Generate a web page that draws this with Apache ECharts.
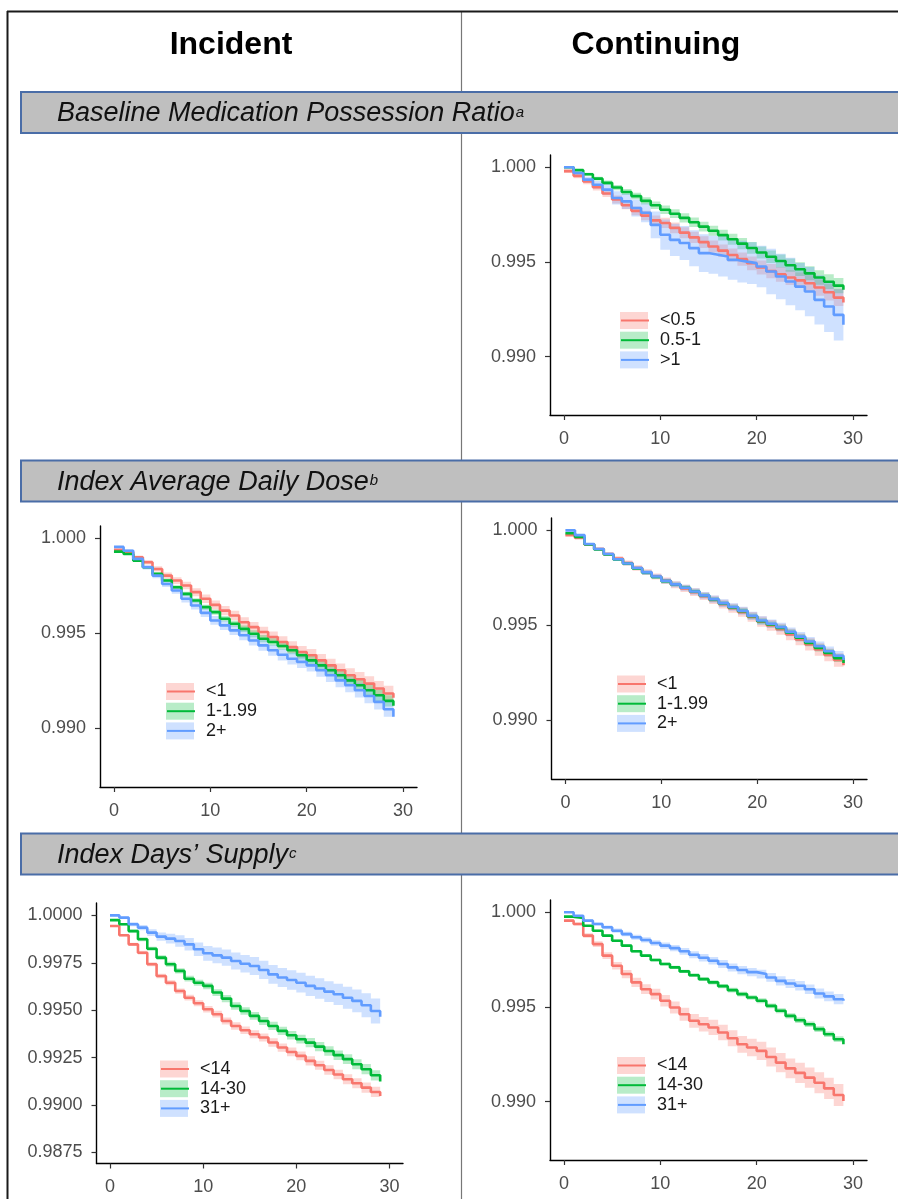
<!DOCTYPE html>
<html>
<head>
<meta charset="utf-8">
<script src="https://cdn.jsdelivr.net/npm/echarts@6/dist/echarts.min.js"></script>
<style>
  html, body { margin: 0; padding: 0; background: #fff; }
  #main { width: 898px; height: 1199px; }
</style>
</head>
<body>
<div id="main"></div>
<script>
// 随访天数
const days = [0,1,2,3,4,5,6,7,8,9,10,11,12,13,14,15,16,17,18,19,20,21,22,23,24,25,26,27,28,29];

// 分组
const groupMpr = ['<0.5', '0.5-1', '>1'];
const groupDose = ['<1', '1-1.99', '2+'];
const groupSupply = ['<14', '14-30', '31+'];

// 刻度
const xTicks = [0, 10, 20, 30];
const xTickLabels = ['0', '10', '20', '30'];
const yTicks3 = [0.990, 0.995, 1.000];
const yTickLabels3 = ['0.990', '0.995', '1.000'];
const yTicks4 = [0.9875, 0.9900, 0.9925, 0.9950, 0.9975, 1.0000];
const yTickLabels4 = ['0.9875', '0.9900', '0.9925', '0.9950', '0.9975', '1.0000'];

// Continuing - Baseline MPR
const cMpr1Mid = [.99980,.99955,.99925,.99895,.99862,.99830,.99800,.99770,.99745,.99720,.99706,.99680,.99655,.99630,.99605,.99582,.99560,.99537,.99515,.99493,.99471,.99452,.99435,.99418,.99403,.99388,.99365,.99340,.99312,.99286];
const cMpr1Hi = [.99990,.99968,.99940,.99912,.99881,.99851,.99822,.99793,.99770,.99746,.99733,.99708,.99684,.99660,.99636,.99614,.99593,.99571,.99550,.99529,.99508,.99490,.99474,.99458,.99444,.99430,.99408,.99384,.99357,.99332];
const cMpr1Lo = [.99970,.99942,.99910,.99878,.99843,.99809,.99778,.99747,.99720,.99694,.99679,.99652,.99626,.99600,.99574,.99550,.99527,.99503,.99480,.99457,.99434,.99414,.99396,.99378,.99362,.99346,.99322,.99296,.99267,.99240];
const cMpr2Mid = [1.0000,.99985,.99963,.99940,.99918,.99893,.99870,.99848,.99823,.99800,.99776,.99755,.99733,.99710,.99687,.99665,.99642,.99620,.99597,.99574,.99550,.99528,.99505,.99483,.99462,.99440,.99418,.99396,.99375,.99353];
const cMpr2Hi = [1.0000,.99990,.99971,.99950,.99930,.99907,.99886,.99865,.99842,.99820,.99798,.99778,.99757,.99735,.99713,.99692,.99670,.99649,.99627,.99605,.99582,.99561,.99539,.99518,.99498,.99477,.99456,.99435,.99415,.99394];
const cMpr2Lo = [1.0000,.99980,.99955,.99930,.99906,.99879,.99854,.99831,.99804,.99780,.99754,.99732,.99709,.99685,.99661,.99638,.99614,.99591,.99567,.99543,.99518,.99495,.99471,.99448,.99426,.99403,.99380,.99357,.99335,.99312];
const cMpr3Mid = [1.0000,.99970,.99935,.99908,.99882,.99838,.99820,.99785,.99760,.99696,.99644,.99617,.99600,.99573,.99547,.99538,.99529,.99511,.99502,.99494,.99476,.99450,.99423,.99397,.99370,.99344,.99300,.99265,.99221,.99168];
const cMpr3Hi = [1.0000,.99980,.99950,.99928,.99910,.99873,.99860,.99830,.99810,.99766,.99724,.99702,.99690,.99668,.99647,.99638,.99634,.99616,.99612,.99604,.99586,.99570,.99543,.99522,.99495,.99474,.99430,.99400,.99356,.99308];
const cMpr3Lo = [1.0000,.99960,.99920,.99888,.99854,.99803,.99780,.99740,.99710,.99626,.99564,.99532,.99510,.99478,.99447,.99438,.99424,.99406,.99392,.99384,.99366,.99330,.99303,.99272,.99245,.99214,.99170,.99130,.99086,.99028];

// Incident - Index average daily dose
const iDose1Mid = [.99940,.99927,.99900,.99874,.99839,.99804,.99778,.99752,.99717,.99682,.99650,.99620,.99594,.99559,.99533,.99507,.99481,.99455,.99428,.99402,.99385,.99358,.99332,.99306,.99280,.99259,.99236,.99210,.99184,.99161];
const iDose1Hi = [.99945,.99935,.99910,.99886,.99853,.99820,.99796,.99772,.99738,.99704,.99673,.99644,.99619,.99585,.99560,.99535,.99510,.99485,.99459,.99434,.99418,.99392,.99367,.99342,.99317,.99297,.99275,.99250,.99224,.99201];
const iDose1Lo = [.99935,.99919,.99890,.99862,.99825,.99788,.99760,.99732,.99696,.99660,.99627,.99596,.99569,.99533,.99506,.99479,.99452,.99425,.99397,.99370,.99352,.99324,.99297,.99270,.99243,.99221,.99197,.99170,.99144,.99121];
const iDose2Mid = [.99930,.99918,.99883,.99848,.99813,.99778,.99743,.99708,.99673,.99638,.99612,.99577,.99551,.99524,.99498,.99472,.99455,.99434,.99411,.99385,.99358,.99332,.99306,.99280,.99253,.99227,.99201,.99175,.99145,.99119];
const iDose2Hi = [.99934,.99923,.99889,.99855,.99821,.99787,.99753,.99719,.99685,.99651,.99626,.99592,.99567,.99541,.99516,.99491,.99475,.99454,.99432,.99407,.99381,.99356,.99331,.99306,.99280,.99255,.99230,.99205,.99175,.99149];
const iDose2Lo = [.99926,.99913,.99877,.99841,.99805,.99769,.99733,.99697,.99661,.99625,.99598,.99562,.99535,.99507,.99480,.99453,.99435,.99414,.99390,.99363,.99335,.99308,.99281,.99254,.99226,.99199,.99172,.99145,.99115,.99089];
const iDose3Mid = [.99955,.99935,.99892,.99848,.99804,.99760,.99726,.99682,.99647,.99608,.99568,.99542,.99516,.99490,.99463,.99437,.99411,.99388,.99367,.99350,.99332,.99306,.99280,.99253,.99227,.99201,.99171,.99140,.99101,.99061];
const iDose3Hi = [.99960,.99943,.99902,.99860,.99818,.99776,.99744,.99702,.99668,.99630,.99591,.99566,.99541,.99516,.99490,.99465,.99440,.99418,.99398,.99382,.99365,.99340,.99315,.99289,.99264,.99239,.99210,.99180,.99141,.99101];
const iDose3Lo = [.99950,.99927,.99882,.99836,.99790,.99744,.99708,.99662,.99626,.99586,.99545,.99518,.99491,.99464,.99436,.99409,.99382,.99358,.99336,.99318,.99299,.99272,.99245,.99217,.99190,.99163,.99132,.99100,.99061,.99021];

// Continuing - Index average daily dose
const cDose1Mid = [.99975,.99960,.99925,.99902,.99875,.99852,.99828,.99802,.99780,.99757,.99735,.99714,.99695,.99675,.99654,.99634,.99612,.99590,.99570,.99545,.99520,.99500,.99480,.99452,.99426,.99400,.99373,.99345,.99318,.99290];
const cDose1Hi = [.99978,.99965,.99932,.99911,.99885,.99864,.99841,.99816,.99795,.99773,.99752,.99732,.99714,.99695,.99675,.99656,.99635,.99614,.99595,.99571,.99547,.99528,.99509,.99482,.99457,.99432,.99406,.99379,.99353,.99326];
const cDose1Lo = [.99972,.99955,.99918,.99893,.99865,.99840,.99815,.99788,.99765,.99741,.99718,.99696,.99676,.99655,.99633,.99612,.99589,.99566,.99545,.99519,.99493,.99472,.99451,.99422,.99395,.99368,.99340,.99311,.99283,.99254];
const cDose2Mid = [.99985,.99965,.99926,.99900,.99873,.99847,.99825,.99800,.99777,.99755,.99733,.99715,.99698,.99678,.99657,.99636,.99615,.99595,.99575,.99548,.99522,.99505,.99487,.99461,.99435,.99408,.99382,.99355,.99328,.99302];
const cDose2Hi = [.99987,.99968,.99930,.99905,.99879,.99854,.99833,.99809,.99787,.99765,.99744,.99726,.99710,.99690,.99670,.99649,.99629,.99609,.99590,.99563,.99538,.99521,.99504,.99478,.99453,.99426,.99401,.99374,.99348,.99322];
const cDose2Lo = [.99983,.99962,.99922,.99895,.99867,.99840,.99817,.99791,.99767,.99745,.99722,.99704,.99686,.99666,.99644,.99623,.99601,.99581,.99560,.99533,.99506,.99489,.99470,.99444,.99417,.99390,.99363,.99336,.99308,.99282];
const cDose3Mid = [1.0000,.99975,.99928,.99902,.99876,.99848,.99826,.99802,.99779,.99757,.99734,.99716,.99698,.99678,.99658,.99638,.99617,.99597,.99577,.99551,.99526,.99509,.99491,.99466,.99441,.99415,.99390,.99364,.99340,.99318];
const cDose3Hi = [1.0000,.99979,.99934,.99909,.99884,.99857,.99836,.99813,.99791,.99770,.99748,.99731,.99714,.99695,.99676,.99657,.99637,.99617,.99598,.99572,.99548,.99531,.99514,.99489,.99465,.99439,.99415,.99389,.99366,.99344];
const cDose3Lo = [1.0000,.99971,.99922,.99895,.99868,.99839,.99816,.99791,.99767,.99744,.99720,.99701,.99682,.99661,.99640,.99619,.99597,.99577,.99556,.99530,.99504,.99487,.99468,.99443,.99417,.99391,.99365,.99339,.99314,.99292];

// Incident - Index days' supply
const iSupp1Mid = [.99944,.99895,.99847,.99803,.99742,.99680,.99645,.99601,.99566,.99537,.99505,.99479,.99443,.99417,.99394,.99373,.99356,.99330,.99303,.99280,.99259,.99233,.99210,.99185,.99161,.99136,.99115,.99092,.99069,.99048];
const iSupp1Hi = [.99948,.99901,.99855,.99813,.99753,.99692,.99658,.99615,.99581,.99553,.99522,.99497,.99462,.99437,.99414,.99394,.99377,.99352,.99325,.99303,.99282,.99257,.99234,.99210,.99186,.99162,.99141,.99119,.99096,.99076];
const iSupp1Lo = [.99940,.99889,.99839,.99793,.99731,.99668,.99632,.99587,.99551,.99521,.99488,.99461,.99424,.99397,.99374,.99352,.99335,.99308,.99281,.99257,.99236,.99209,.99186,.99160,.99136,.99110,.99089,.99065,.99042,.99020];
const iSupp2Mid = [.99975,.99953,.99917,.99874,.99824,.99777,.99742,.99707,.99666,.99645,.99628,.99593,.99561,.99522,.99496,.99470,.99443,.99417,.99391,.99368,.99347,.99329,.99308,.99285,.99263,.99242,.99215,.99189,.99157,.99124];
const iSupp2Hi = [.99979,.99959,.99925,.99884,.99835,.99789,.99755,.99721,.99681,.99661,.99645,.99611,.99580,.99542,.99516,.99491,.99464,.99439,.99413,.99391,.99370,.99353,.99332,.99310,.99288,.99268,.99241,.99216,.99184,.99152];
const iSupp2Lo = [.99971,.99947,.99909,.99864,.99813,.99765,.99729,.99693,.99651,.99629,.99611,.99575,.99542,.99502,.99476,.99449,.99422,.99395,.99369,.99345,.99324,.99305,.99284,.99260,.99238,.99216,.99189,.99162,.99130,.99096];
const iSupp3Mid = [1.0000,.99988,.99953,.99935,.99909,.99888,.99877,.99865,.99847,.99821,.99800,.99789,.99777,.99759,.99745,.99733,.99712,.99689,.99672,.99659,.99645,.99628,.99614,.99598,.99584,.99566,.99549,.99526,.99496,.99466];
const iSupp3Hi = [1.0000,.99993,.99963,.99949,.99927,.99910,.99903,.99895,.99880,.99857,.99839,.99830,.99820,.99804,.99791,.99780,.99760,.99738,.99722,.99710,.99697,.99681,.99668,.99653,.99640,.99624,.99609,.99589,.99562,.99536];
const iSupp3Lo = [1.0000,.99983,.99943,.99921,.99891,.99866,.99851,.99835,.99814,.99785,.99761,.99748,.99734,.99714,.99699,.99686,.99664,.99640,.99622,.99608,.99593,.99575,.99560,.99543,.99528,.99508,.99489,.99463,.99430,.99396];

// Continuing - Index days' supply
const cSupp1Mid = [.99956,.99938,.99877,.99832,.99771,.99718,.99674,.99630,.99594,.99568,.99533,.99497,.99462,.99427,.99409,.99392,.99365,.99335,.99303,.99286,.99268,.99236,.99206,.99176,.99152,.99127,.99100,.99070,.99035,.99004];
const cSupp1Hi = [.99962,.99946,.99889,.99847,.99789,.99738,.99696,.99654,.99620,.99596,.99563,.99529,.99496,.99463,.99447,.99432,.99406,.99377,.99347,.99332,.99316,.99286,.99257,.99228,.99205,.99181,.99155,.99126,.99093,.99064];
const cSupp1Lo = [.99950,.99930,.99865,.99817,.99753,.99698,.99652,.99606,.99568,.99540,.99503,.99465,.99428,.99391,.99371,.99352,.99324,.99293,.99259,.99240,.99220,.99186,.99155,.99124,.99099,.99073,.99045,.99014,.98977,.98944];
const cSupp2Mid = [.99977,.99970,.99929,.99903,.99877,.99850,.99824,.99794,.99771,.99748,.99727,.99709,.99688,.99668,.99647,.99630,.99610,.99589,.99568,.99550,.99533,.99506,.99480,.99453,.99430,.99409,.99383,.99356,.99330,.99303];
const cSupp2Hi = [.99979,.99973,.99933,.99908,.99882,.99856,.99830,.99801,.99778,.99756,.99735,.99718,.99697,.99678,.99657,.99641,.99621,.99601,.99580,.99562,.99546,.99519,.99493,.99467,.99444,.99423,.99398,.99371,.99345,.99319];
const cSupp2Lo = [.99975,.99967,.99925,.99898,.99872,.99844,.99818,.99787,.99764,.99740,.99719,.99700,.99679,.99658,.99637,.99619,.99599,.99577,.99556,.99538,.99520,.99493,.99467,.99439,.99416,.99395,.99368,.99341,.99315,.99287];
const cSupp3Mid = [1.0000,.99982,.99956,.99938,.99921,.99903,.99885,.99868,.99854,.99838,.99824,.99811,.99794,.99776,.99760,.99744,.99727,.99709,.99695,.99684,.99674,.99656,.99638,.99624,.99612,.99594,.99571,.99556,.99541,.99533];
const cSupp3Hi = [1.0000,.99986,.99962,.99946,.99931,.99914,.99897,.99881,.99868,.99853,.99840,.99828,.99812,.99795,.99780,.99764,.99748,.99730,.99717,.99706,.99697,.99679,.99662,.99648,.99637,.99619,.99597,.99582,.99568,.99560];
const cSupp3Lo = [1.0000,.99978,.99950,.99930,.99911,.99892,.99873,.99855,.99840,.99823,.99808,.99794,.99776,.99757,.99740,.99724,.99706,.99688,.99673,.99662,.99651,.99633,.99614,.99600,.99587,.99569,.99545,.99530,.99514,.99506];

// 颜色
const lineColors = ['#F8766D', '#00BA38', '#619CFF'];
const bandColors = ['rgba(248,118,109,0.30)', 'rgba(0,186,56,0.28)', 'rgba(97,156,255,0.30)'];
const FONT = '"Liberation Sans", Arial, sans-serif';

// 各面板
const panels = [
  { grid: { left: 550, top: 155, width: 317, height: 260 }, legend: [620, 311.5],
    groups: groupMpr, yTicks: yTicks3, yLabels: yTickLabels3,
    lines: [[cMpr1Mid, cMpr1Lo, cMpr1Hi], [cMpr2Mid, cMpr2Lo, cMpr2Hi], [cMpr3Mid, cMpr3Lo, cMpr3Hi]] },
  { grid: { left: 100, top: 526, width: 317, height: 261 }, legend: [166, 682.5],
    groups: groupDose, yTicks: yTicks3, yLabels: yTickLabels3,
    lines: [[iDose1Mid, iDose1Lo, iDose1Hi], [iDose2Mid, iDose2Lo, iDose2Hi], [iDose3Mid, iDose3Lo, iDose3Hi]] },
  { grid: { left: 551.5, top: 518, width: 315.5, height: 261 }, legend: [617, 675],
    groups: groupDose, yTicks: yTicks3, yLabels: yTickLabels3,
    lines: [[cDose1Mid, cDose1Lo, cDose1Hi], [cDose2Mid, cDose2Lo, cDose2Hi], [cDose3Mid, cDose3Lo, cDose3Hi]] },
  { grid: { left: 96.5, top: 903, width: 306.5, height: 260.5 }, legend: [160, 1060],
    groups: groupSupply, yTicks: yTicks4, yLabels: yTickLabels4,
    lines: [[iSupp1Mid, iSupp1Lo, iSupp1Hi], [iSupp2Mid, iSupp2Lo, iSupp2Hi], [iSupp3Mid, iSupp3Lo, iSupp3Hi]] },
  { grid: { left: 550, top: 900, width: 317, height: 260 }, legend: [617, 1056.5],
    groups: groupSupply, yTicks: yTicks3, yLabels: yTickLabels3,
    lines: [[cSupp1Mid, cSupp1Lo, cSupp1Hi], [cSupp2Mid, cSupp2Lo, cSupp2Hi], [cSupp3Mid, cSupp3Lo, cSupp3Hi]] }
];

//置信带: 阶梯多边形
function bandItem(params, api) {
  if (params.dataIndexInside !== 0) return null;
  const n = params.dataInsideLength;
  const up = [], dn = [];
  for (let i = 0; i < n; i++) {
    const t = api.value(0, i);
    if (i > 0) {
      up.push(api.coord([t, api.value(2, i - 1)]));
      dn.push(api.coord([t, api.value(1, i - 1)]));
    }
    up.push(api.coord([t, api.value(2, i)]));
    dn.push(api.coord([t, api.value(1, i)]));
  }
  return {
    type: 'polygon',
    shape: { points: up.concat(dn.reverse()) },
    style: { fill: api.visual('color') }
  };
}

const grids = [], xAxes = [], yAxes = [], series = [], legends = [];
panels.forEach(function (p, k) {
  grids.push(Object.assign({ containLabel: false }, p.grid));
  xAxes.push({
    type: 'value', gridIndex: k, min: -1.45, max: 31.45,
    axisLine: { show: true, onZero: false, lineStyle: { color: '#000', width: 1.4 } },
    axisTick: { show: true, customValues: xTicks, length: 5, lineStyle: { color: '#333', width: 1.2 } },
    axisLabel: { customValues: xTicks, fontSize: 18, color: '#4d4d4d', fontFamily: FONT, margin: 15,
      formatter: v => xTickLabels[xTicks.indexOf(Math.round(v))] },
    splitLine: { show: false }
  });
  yAxes.push({
    type: 'value', gridIndex: k, min: 0.98692, max: 1.00065,
    axisLine: { show: true, onZero: false, lineStyle: { color: '#000', width: 1.4 } },
    axisTick: { show: true, customValues: p.yTicks, length: 5, lineStyle: { color: '#333', width: 1.2 } },
    axisLabel: { customValues: p.yTicks, fontSize: 18, color: '#4d4d4d', fontFamily: FONT, margin: 14,
      formatter: v => p.yLabels[p.yTicks.findIndex(t => Math.abs(t - v) < 1e-7)] },
    splitLine: { show: false }
  });
  // 先画置信带, 再画曲线
  p.lines.forEach(function (arr, g) {
    series.push({
      type: 'custom', name: p.groups[g] + ' band', xAxisIndex: k, yAxisIndex: k,
      data: days.map((d, i) => [d, arr[1][i], arr[2][i]]),
      encode: { x: 0, y: [1, 2] },
      renderItem: bandItem, itemStyle: { color: bandColors[g] }, silent: true, z: 1
    });
  });
  p.lines.forEach(function (arr, g) {
    series.push({
      type: 'line', name: p.groups[g], xAxisIndex: k, yAxisIndex: k,
      data: days.map((d, i) => [d, arr[0][i]]),
      step: 'end', symbol: 'none', silent: true, z: 3,
      lineStyle: { color: lineColors[g], width: 2.6 }, itemStyle: { color: lineColors[g] }
    });
  });
  const common = {
    left: p.legend[0], top: p.legend[1], orient: 'vertical', padding: 0,
    itemWidth: 28, itemHeight: 17, itemGap: 1.7, selectedMode: false
  };
  legends.push(Object.assign({}, common, {
    icon: 'rect', z: 4,
    data: p.groups.map((n, g) => ({ name: n + ' band', itemStyle: { color: bandColors[g] } })),
    formatter: n => n.replace(' band', ''),
    textStyle: { color: 'rgba(0,0,0,0)', fontSize: 18, lineHeight: 17, fontFamily: FONT, padding: [0, 0, 0, 6] }
  }));
  legends.push(Object.assign({}, common, {
    z: 5,
    data: p.groups.map(n => ({ name: n, itemStyle: { opacity: 0 } })),
    textStyle: { color: '#1a1a1a', fontSize: 18, lineHeight: 17, fontFamily: FONT, padding: [0, 0, 0, 6] }
  }));
});

// 标题栏
function textWidth(str, font) {
  const ctx = document.createElement('canvas').getContext('2d');
  ctx.font = font;
  return ctx.measureText(str).width;
}
const bannerFont = 'italic 27px "Liberation Sans"';
const banners = [
  { y: 92, text: 'Baseline Medication Possession Ratio', sup: 'a' },
  { y: 460.5, text: 'Index Average Daily Dose', sup: 'b' },
  { y: 833.5, text: 'Index Days\u2019 Supply', sup: 'c' }
];
const graphics = [
  { type: 'line', z: 5, shape: { x1: 461.5, y1: 12, x2: 461.5, y2: 1199 }, style: { stroke: '#777', lineWidth: 1.2 } },
  { type: 'line', z: 6, shape: { x1: 7, y1: 11.5, x2: 898, y2: 11.5 }, style: { stroke: '#1a1a1a', lineWidth: 2 } },
  { type: 'line', z: 6, shape: { x1: 7.5, y1: 11, x2: 7.5, y2: 1199 }, style: { stroke: '#1a1a1a', lineWidth: 2 } },
  { type: 'text', z: 6, style: { text: 'Incident', x: 231, y: 45.5, align: 'center', verticalAlign: 'middle',
    font: 'bold 32px "Liberation Sans"', fill: '#000' } },
  { type: 'text', z: 6, style: { text: 'Continuing', x: 656, y: 45.5, align: 'center', verticalAlign: 'middle',
    font: 'bold 32px "Liberation Sans"', fill: '#000' } }
];
banners.forEach(function (b) {
  graphics.push({ type: 'rect', z: 10, shape: { x: 21, y: b.y, width: 900, height: 41 },
    style: { fill: '#bfbfbf', stroke: '#4a6da7', lineWidth: 2 } });
  graphics.push({ type: 'text', z: 11, style: { text: b.text, x: 57, y: b.y + 21.5, verticalAlign: 'middle',
    font: bannerFont, fill: '#111' } });
  graphics.push({ type: 'text', z: 11, style: { text: b.sup, x: 57 + textWidth(b.text, bannerFont) + 1, y: b.y + 20.5,
    verticalAlign: 'middle', font: 'italic 15px "Liberation Sans"', fill: '#111' } });
});

let charts = echarts.init(document.getElementById('main'));
charts.setOption({
  animation: false,
  backgroundColor: '#fff',
  textStyle: { fontFamily: FONT },
  grid: grids,
  xAxis: xAxes,
  yAxis: yAxes,
  legend: legends,
  graphic: { elements: graphics },
  series: series
});
window.addEventListener('resize', () => { charts.resize(); });
</script>
</body>
</html>
